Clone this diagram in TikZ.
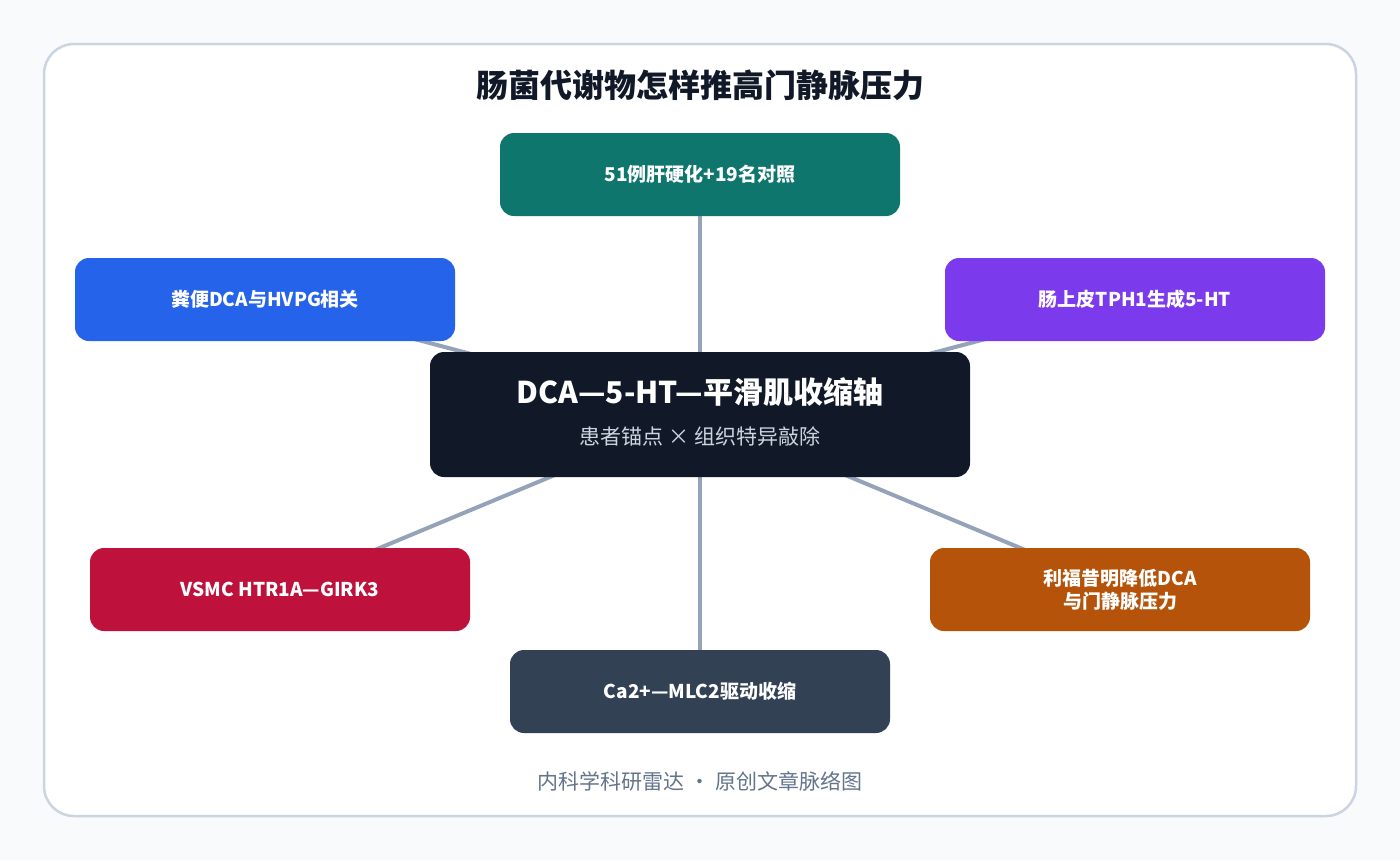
\documentclass[tikz,border=0pt]{standalone}
\usepackage{fontspec}
\setmainfont{Noto Sans CJK SC}
\usetikzlibrary{backgrounds}
\definecolor{bg}{HTML}{F8FAFC}
\definecolor{frame}{HTML}{CBD5E1}
\definecolor{edge}{HTML}{94A3B8}
\definecolor{cT}{HTML}{0F766E}
\definecolor{cL}{HTML}{2563EB}
\definecolor{cR}{HTML}{7C3AED}
\definecolor{cC}{HTML}{111827}
\definecolor{cLL}{HTML}{BE123C}
\definecolor{cLR}{HTML}{B45309}
\definecolor{cB}{HTML}{334155}
\definecolor{foot}{HTML}{64748B}
\definecolor{sub}{HTML}{CBD5E1}
\tikzset{
 box/.style={rounded corners=14pt,minimum width=380pt,minimum height=83pt,text=white,font=\fontsize{19}{23}\selectfont\bfseries,align=center,inner sep=0pt},
 conn/.style={draw=edge,line width=4pt}
}
\begin{document}
\begin{tikzpicture}[x=1pt,y=-1pt]
\useasboundingbox (0,0) rectangle (1400,860);
\begin{scope}[on background layer]
\fill[bg] (0,0) rectangle (1400,860);
\draw[frame,line width=2.5pt,fill=white,rounded corners=30pt] (44,44) rectangle (1356,816);
\end{scope}
\node[font=\fontsize{32}{38}\selectfont\bfseries,text=cC] (title) at (700,85) {肠菌代谢物怎样推高门静脉压力};
\node[box,fill=cT,minimum width=400pt] (t) at (700,174.5) {51例肝硬化+19名对照};
\node[box,fill=cL] (l) at (265,299.5) {粪便DCA与HVPG相关};
\node[box,fill=cR] (r) at (1135,299.5) {肠上皮TPH1生成5-HT};
\node[box,fill=cC,minimum width=540pt,minimum height=125pt] (c) at (700,414.5) {};
\node[text=white,font=\fontsize{30}{36}\selectfont\bfseries] (ct) at (700,392) {DCA—5-HT—平滑肌收缩轴};
\node[text=sub,font=\fontsize{21}{25}\selectfont] (cs) at (700,436) {患者锚点 × 组织特异敲除};
\node[box,fill=cLL] (ll) at (280,589.5) {VSMC HTR1A—GIRK3};
\node[box,fill=cLR] (lr) at (1120,589.5) {利福昔明降低DCA\\与门静脉压力};
\node[box,fill=cB] (b) at (700,691.5) {Ca2+—MLC2驱动收缩};
\node[text=foot,font=\fontsize{21}{25}\selectfont] (f) at (700,781) {内科学科研雷达 · 原创文章脉络图};
\begin{scope}[on background layer]
\foreach \n in {t,l,r,ll,lr,b} \draw[conn] (c.center) -- (\n.center);
\end{scope}
\end{tikzpicture}
\end{document}
